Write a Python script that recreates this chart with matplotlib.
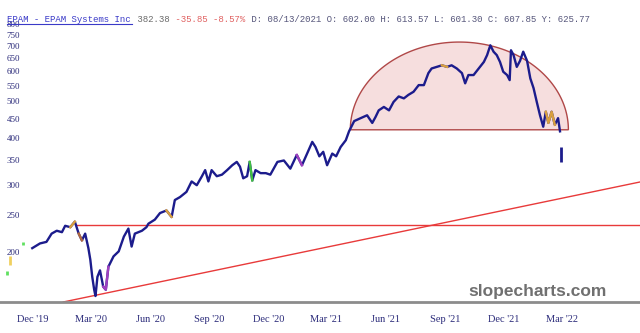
"""EPAM daily chart with rounded-top pattern, support line and rising trendline."""
import matplotlib

matplotlib.use("Agg")
import matplotlib.pyplot as plt
import numpy as np
import pandas as pd

# price path (approximate closes)
dates = [
    "2019-12-01", "2019-12-13", "2019-12-23", "2019-12-31", "2020-01-08", "2020-01-16",
    "2020-01-21", "2020-01-29", "2020-02-05", "2020-02-11", "2020-02-16", "2020-02-21",
    "2020-02-26", "2020-02-29", "2020-03-03", "2020-03-06", "2020-03-08", "2020-03-11",
    "2020-03-15", "2020-03-20", "2020-03-24", "2020-03-28", "2020-04-05", "2020-04-13",
    "2020-04-21", "2020-04-28", "2020-05-03", "2020-05-08", "2020-05-19", "2020-05-26",
    "2020-05-29", "2020-06-08", "2020-06-16", "2020-06-26", "2020-07-04", "2020-07-09",
    "2020-07-17", "2020-07-27", "2020-08-04", "2020-08-12", "2020-08-20", "2020-08-25",
    "2020-08-30", "2020-09-04", "2020-09-12", "2020-09-20", "2020-09-28", "2020-10-06",
    "2020-10-13", "2020-10-18", "2020-10-23", "2020-10-29", "2020-11-02", "2020-11-06",
    "2020-11-11", "2020-11-19", "2020-11-27", "2020-12-04", "2020-12-15", "2020-12-25",
    "2021-01-04", "2021-01-14", "2021-01-22", "2021-01-30", "2021-02-07", "2021-02-12",
    "2021-02-18", "2021-02-24", "2021-03-02", "2021-03-10", "2021-03-16", "2021-03-23",
    "2021-03-31", "2021-04-05", "2021-04-13", "2021-04-23", "2021-05-03", "2021-05-11",
    "2021-05-16", "2021-05-21", "2021-05-29", "2021-06-06", "2021-06-13", "2021-06-21",
    "2021-06-29", "2021-07-06", "2021-07-14", "2021-07-22", "2021-07-30", "2021-08-06",
    "2021-08-11", "2021-08-19", "2021-08-27", "2021-09-04", "2021-09-11", "2021-09-19",
    "2021-09-27", "2021-10-02", "2021-10-07", "2021-10-15", "2021-10-23", "2021-10-31",
    "2021-11-05", "2021-11-10", "2021-11-15", "2021-11-20", "2021-11-25", "2021-11-30",
    "2021-12-06", "2021-12-10", "2021-12-12", "2021-12-16", "2021-12-21", "2021-12-26",
    "2021-12-31", "2022-01-06", "2022-01-11", "2022-01-16", "2022-01-21", "2022-01-26",
    "2022-01-31", "2022-02-04", "2022-02-08", "2022-02-13", "2022-02-18", "2022-02-23",
    "2022-02-26",
]
close = [
    206, 212, 214, 225, 229, 227,
    236, 234, 242, 225, 216, 225,
    206, 192, 173, 160, 154, 173,
    180, 163, 160, 184, 196, 202,
    221, 232, 208, 225, 229, 234,
    239, 245, 255, 259, 249, 276,
    281, 290, 309, 302, 319, 331,
    309, 331, 319, 322, 331, 341,
    348, 338, 315, 319, 348, 311,
    331, 325, 325, 322, 348, 351,
    334, 363, 341, 366, 393, 381,
    360, 370, 341, 366, 360, 381,
    397, 419, 446, 454, 462, 441,
    457, 476, 486, 476, 501, 518,
    512, 523, 533, 555, 555, 597,
    614, 620, 626, 620, 626, 614,
    597, 561, 590, 590, 614, 639,
    666, 707, 680, 666, 639, 602,
    590, 572, 686, 666, 620, 643,
    680, 643, 578, 545, 501, 462,
    431, 472, 441, 472, 436, 454,
    419,
]

# last session after the gap (high / low)
last_date = "2022-02-28"
last_high, last_low = 380, 348

# stray indicator marks at the far left (date, low, high, colour)
stray_marks = [
    ("2019-10-23", 175, 179, "#60e060"),
    ("2019-10-28", 186, 196, "#f0d060"),
    ("2019-11-16", 210, 214, "#60e060"),
]

# coloured bar stretches on the price line
accent_spans = [
    ("2020-01-29", "2020-02-05", "#d9a040"),
    ("2020-02-11", "2020-02-16", "#b06a40"),
    ("2020-03-20", "2020-03-28", "#a040c0"),
    ("2020-06-26", "2020-07-04", "#d9a040"),
    ("2020-11-02", "2020-11-06", "#40c040"),
    ("2021-01-14", "2021-01-22", "#a040c0"),
    ("2021-08-27", "2021-09-04", "#d9a040"),
    ("2022-02-04", "2022-02-18", "#d9a040"),
]

# drawn studies
support_start, support_level = "2020-02-08", 237
trend_pts = [("2020-01-18", 148.5), ("2022-06-30", 308)]
dome_center, dome_halfwidth_days = "2021-09-23", 169
dome_base, dome_top = 423, 721

yticks = [200, 250, 300, 350, 400, 450, 500, 550, 600, 650, 700, 750, 800]
xtick_dates = ["2019-12-01", "2020-03-01", "2020-06-01", "2020-09-01", "2020-12-01",
               "2021-03-01", "2021-06-01", "2021-09-01", "2021-12-01", "2022-03-01"]
xtick_labels = ["Dec '19", "Mar '20", "Jun '20", "Sep '20", "Dec '20",
                "Mar '21", "Jun '21", "Sep '21", "Dec '21", "Mar '22"]

NAVY = "#1c1c8c"
LABEL = "#2b2b7a"

fig = plt.figure(figsize=(6.4, 3.33), dpi=100)
ax = fig.add_axes([0, 31 / 333, 1, 302 / 333])
ax.set_yscale("log")
ax.set_ylim(148.5, 931)
ax.set_xlim(pd.Timestamp("2019-10-12"), pd.Timestamp("2022-06-30"))

d = pd.to_datetime(dates)
c = np.array(close, dtype=float)

# rounded top
t = np.linspace(0, np.pi, 200)
cx = pd.Timestamp(dome_center) + pd.to_timedelta(dome_halfwidth_days * np.cos(t), unit="D")
cy = np.exp(np.log(dome_base) + (np.log(dome_top) - np.log(dome_base)) * np.sin(t))
ax.fill(cx, cy, facecolor="#f6dede", edgecolor="#b04848", lw=1.0, zorder=1)

# support and trendline
ax.plot([pd.Timestamp(support_start), pd.Timestamp("2022-06-30")], [support_level] * 2,
        color="#e83a3a", lw=1.0, zorder=2)
ax.plot(pd.to_datetime([p[0] for p in trend_pts]), [p[1] for p in trend_pts],
        color="#e83a3a", lw=1.0, zorder=2)

# price
ax.plot(d, c, color=NAVY, lw=1.7, zorder=3)
for s, e, col in accent_spans:
    m = (d >= pd.Timestamp(s)) & (d <= pd.Timestamp(e))
    ax.plot(d[m], c[m], color=col, lw=1.7, zorder=4)
ax.vlines(pd.Timestamp(last_date), last_low, last_high, color=NAVY, lw=2.0, zorder=3)
for sd, lo, hi, col in stray_marks:
    ax.vlines(pd.Timestamp(sd), lo, hi, color=col, lw=2.0, zorder=3)

# axes styling
for side in ("top", "left", "right"):
    ax.spines[side].set_visible(False)
ax.spines["bottom"].set_color("#8c8c8c")
ax.spines["bottom"].set_linewidth(2)
ax.set_yticks([])
ax.yaxis.set_minor_locator(matplotlib.ticker.NullLocator())
for v in yticks:
    ax.text(0.021, v, str(v), transform=ax.get_yaxis_transform(), ha="center", va="center",
            fontsize=6.5, family="Liberation Serif", color=LABEL)
ax.set_xticks(pd.to_datetime(xtick_dates))
ax.set_xticklabels(xtick_labels, fontsize=7.5, family="Liberation Serif", color=LABEL)
ax.tick_params(axis="x", length=0, pad=9)

ax.text(0.84, 0.036, "slopecharts.com", transform=ax.transAxes, ha="center", va="center",
        fontsize=12.5, fontweight="bold", family="Liberation Sans", color="#707070", zorder=5)

# header line in monospace
header = [
    ("EPAM - EPAM Systems Inc", "#3a3ac8"),
    (" 382.38", "#6a6a6a"),
    (" -35.85 -8.57%", "#e06060"),
    (" D: 08/13/2021 O: 602.00 H: 613.57 L: 601.30 C: 607.85 Y: 625.77", "#55557a"),
]
cw = 5.44  # px per character
n = 0
for txt, col in header:
    fig.text((7 + n * cw) / 640, 1 - 19 / 333, txt, ha="left", va="center", fontsize=6.5,
             family="Liberation Mono", color=col, zorder=6)
    n += len(txt)
fig.add_artist(plt.Line2D([7 / 640, (7 + 23 * cw) / 640], [1 - 23.5 / 333] * 2,
                          color="#3a3ac8", lw=0.8))

fig.savefig("out.png", dpi=100)
